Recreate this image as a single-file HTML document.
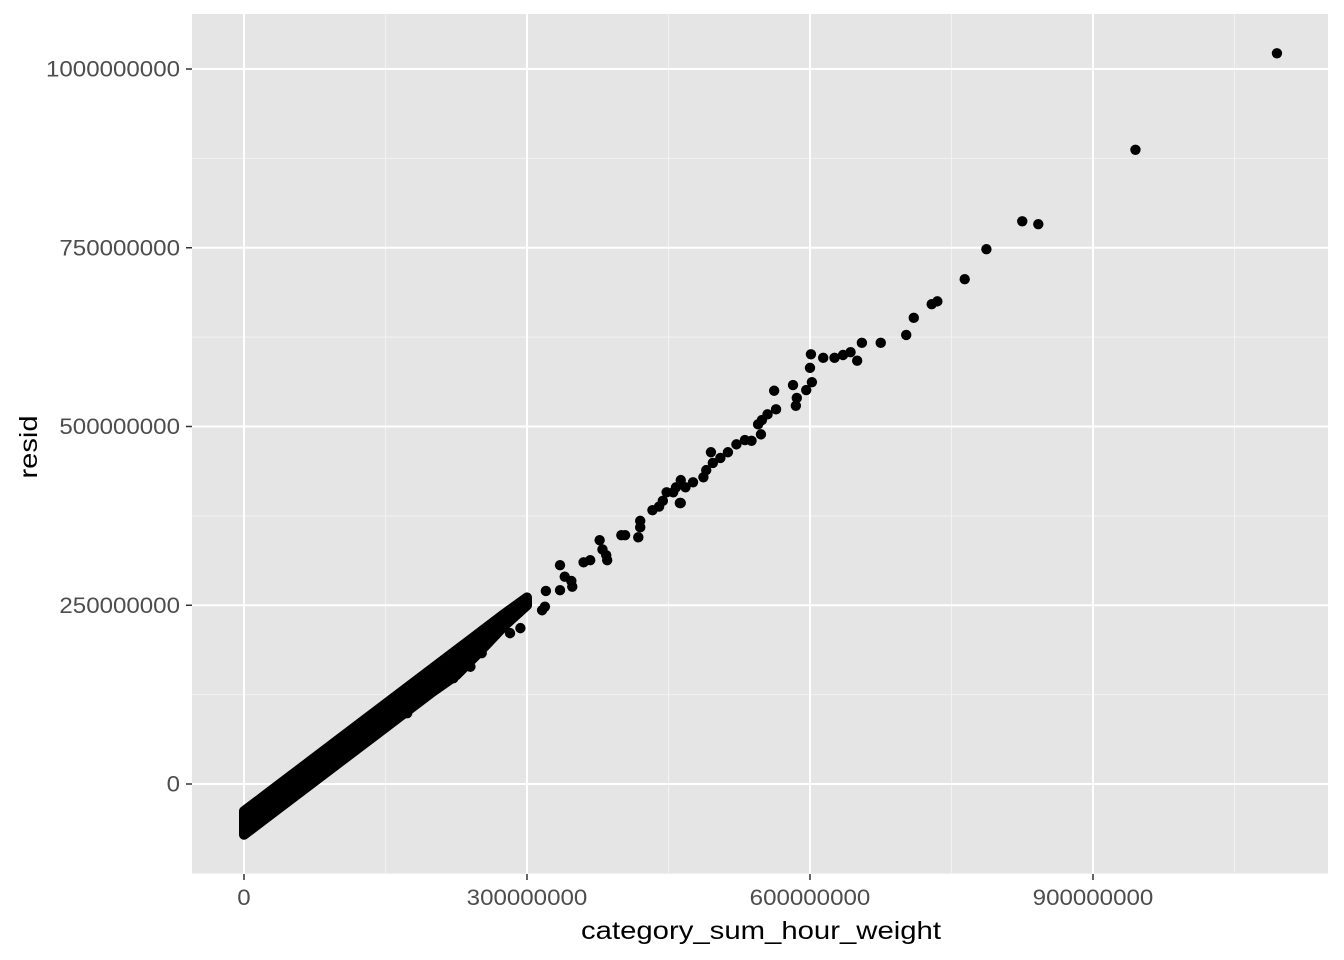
<!DOCTYPE html>
<html><head><meta charset="utf-8"><style>
html,body{margin:0;padding:0;background:#fff;}
svg{display:block;font-family:"Liberation Sans",Arial,sans-serif;}
</style></head><body>
<svg id="chart" width="1344" height="960">
<rect x="192" y="14" width="1136" height="860" fill="#e5e5e5"/>
<g id="grid"></g><g id="marks"></g><g id="axes"></g>
<text x="761" y="939" text-anchor="middle" font-size="25" textLength="360" lengthAdjust="spacingAndGlyphs" fill="#000">category_sum_hour_weight</text>
<text transform="translate(37,447) rotate(-90)" text-anchor="middle" font-size="25" textLength="63" lengthAdjust="spacingAndGlyphs" fill="#000">resid</text>
</svg>
<script>
// values in millions
const xTicks = [0, 300, 600, 900];
const xTickLabels = ["0", "300000000", "600000000", "900000000"];
const yTicks = [0, 250, 500, 750, 1000];
const yTickLabels = ["0", "250000000", "500000000", "750000000", "1000000000"];
const xMinor = [150, 450, 750, 1050];
const yMinor = [-125, 125, 375, 625, 875];
const bandX = [0, 25, 50, 75, 100, 125, 150, 175, 200, 225, 250, 275, 300];
const bandUpper = [-38, -13, 12, 37, 62, 87, 112, 137, 162, 187, 212, 237, 261];
const bandLower = [-71, -46, -21, 4, 29, 54, 79, 104, 129, 152, 185, 220, 250];
const ptX = [1095,945,825,842,787,764,735,729,710,702,675,655,643,650,635,626,614,601,600,602,596,586,582,585,562,564,555,549,545,548,538,531,522,513,505,497,495,490,487,476,468,463,458,455,448,463,444,433,420,404,384,367,347,335,316,293,282,252,335,377,320,340,360,380,400,420,440,240,222,173,319,348,418,462,385];
const ptY = [1022,887,787,783,748,706,675,671,652,628,617,617,604,592,600,596,596,601,582,562,551,540,558,529,550,524,517,509,503,489,480,481,475,464,456,449,464,439,429,422,415,425,415,408,408,393,396,383,359,348,320,313,284,271,243,218,211,183,306,341,270,290,310,328,348,368,388,164,148,99,248,276,345,393,313];

const NS = "http://www.w3.org/2000/svg";
const xs = v => 244 + (v / 300) * 283;
const ys = v => 784 - (v / 250) * 178.75;
function mk(tag, attrs, parent) {
  const e = document.createElementNS(NS, tag);
  for (const k in attrs) e.setAttribute(k, attrs[k]);
  parent.appendChild(e);
  return e;
}
const grid = document.getElementById("grid");
const marks = document.getElementById("marks");
const axes = document.getElementById("axes");
xMinor.forEach(v => {
  const l = mk("line", {x1: xs(v), x2: xs(v), y1: 14, y2: 874, stroke: "#f2f2f2", "stroke-width": 1}, grid);
  
  
});
yMinor.forEach(v => {
  const l = mk("line", {x1: 192, x2: 1328, y1: ys(v), y2: ys(v), stroke: "#f2f2f2", "stroke-width": 1}, grid);
  
  
});
const digitW = 13.4;
xTicks.forEach((v, i) => {
  const l = mk("line", {x1: xs(v), x2: xs(v), y1: 14, y2: 874, stroke: "#fff", "stroke-width": 2}, grid);
  
  
  const t = mk("line", {x1: xs(v), x2: xs(v), y1: 874, y2: 880, stroke: "#333", "stroke-width": 1.5}, axes);
  
  
  const tx = mk("text", {x: xs(v), y: 905, "text-anchor": "middle", "font-size": 22, textLength: xTickLabels[i].length * digitW, lengthAdjust: "spacingAndGlyphs", fill: "#4d4d4d"}, axes);
  tx.textContent = xTickLabels[i];
  
  
});
yTicks.forEach((v, i) => {
  const l = mk("line", {x1: 192, x2: 1328, y1: ys(v), y2: ys(v), stroke: "#fff", "stroke-width": 2}, grid);
  
  
  const t = mk("line", {x1: 186, x2: 192, y1: ys(v), y2: ys(v), stroke: "#333", "stroke-width": 1.5}, axes);
  
  
  const tx = mk("text", {x: 180, y: ys(v) + 7.5, "text-anchor": "end", "font-size": 22, textLength: yTickLabels[i].length * digitW, lengthAdjust: "spacingAndGlyphs", fill: "#4d4d4d"}, axes);
  tx.textContent = yTickLabels[i];
  
  
});
// dense band
let pts = bandX.map((x, i) => xs(x) + "," + ys(bandUpper[i]));
for (let i = bandX.length - 1; i >= 0; i--) pts.push(xs(bandX[i]) + "," + ys(bandLower[i]));
const poly = mk("polygon", {points: pts.join(" "), fill: "#000", stroke: "#000", "stroke-width": 10, "stroke-linejoin": "round"}, marks);


ptX.forEach((x, i) => {
  const c = mk("circle", {cx: xs(x), cy: ys(ptY[i]), r: 5.2, fill: "#000"}, marks);
  
  
});
</script>
</body></html>
